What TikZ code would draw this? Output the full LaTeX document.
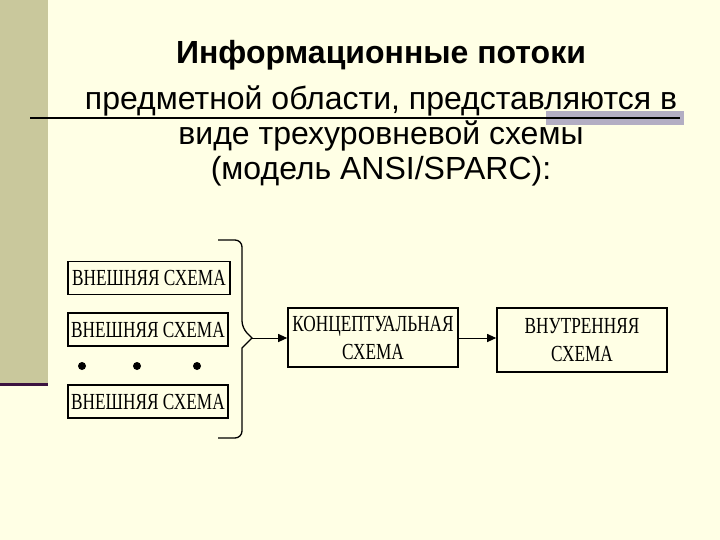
\documentclass[tikz,border=0pt]{standalone}
\usepackage{fontspec}
\setmainfont{Liberation Sans}
\newfontfamily\boxfont{Liberation Serif}
\usetikzlibrary{arrows.meta, positioning}
\definecolor{cream}{HTML}{FFFFE5}
\definecolor{khaki}{HTML}{C9C89C}
\definecolor{plum}{HTML}{3B1240}
\definecolor{greybar}{HTML}{B3AEC3}
\newcommand{\narrowtext}[1]{\scalebox{0.75}[1]{#1}}
\tikzset{
  schema/.style={rectangle, draw=black, line width=1.6pt, inner sep=0pt,
    minimum width=162pt, minimum height=33pt, align=center,
    font=\boxfont\fontsize{23}{28}\selectfont},
  schemathin/.style={schema, line width=1.1pt, minimum width=160pt},
  schemabig/.style={schema, minimum width=170pt, minimum height=59pt},
  flow/.style={-{Triangle[length=9pt, width=8pt]}, line width=1pt},
  dotmark/.style={circle, fill=black, inner sep=0pt, minimum size=8pt},
  title/.style={align=center, font=\fontsize{32}{35}\selectfont},
}
\begin{document}
\begin{tikzpicture}[x=1pt, y=-1pt]
\useasboundingbox (0,0) rectangle (720,540);
\fill[cream] (0,0) rectangle (720,540);
\fill[khaki] (0,0) rectangle (48,383);
\fill[plum] (0,383) rectangle (48,386);
\fill[greybar] (546,111) rectangle (684,125);
\draw[line width=1.5pt] (30,118) -- (680,118);

\node[title] (head) at (381,113)
  {\textbf{Информационные потоки}\\[11pt]
   предметной области, представляются в\\
   виде трехуровневой схемы\\
   (модель ANSI/SPARC):};

\node[schema] (ext1) at (149,278) {\narrowtext{ВНЕШНЯЯ СХЕМА}};
\node[schemathin] (ext2) at (148,329.5) {\narrowtext{ВНЕШНЯЯ СХЕМА}};
\node[schemathin] (ext3) at (148,401.5) {\narrowtext{ВНЕШНЯЯ СХЕМА}};
\foreach \i/\x in {1/82, 2/137, 3/197}
  \node[dotmark] (dot\i) at (\x,366) {};

\draw[line width=1.3pt, rounded corners=7pt] (218,240) -- (242,240) -- (242,328)
  [sharp corners] -- (252,338) -- (242,348) [rounded corners=7pt] -- (242,438) -- (218,438);
\coordinate (tip) at (252,338);

\node[schemabig] (concept) at (373,337.5)
  {\narrowtext{КОНЦЕПТУАЛЬНАЯ}\\\narrowtext{СХЕМА}};
\node[schemabig, minimum height=64pt] (internal) at (582,340)
  {\narrowtext{ВНУТРЕННЯЯ}\\\narrowtext{СХЕМА}};

\draw[flow] (tip) -- (concept.west |- tip);
\draw[flow] (concept.east |- tip) -- (internal.west |- tip);
\end{tikzpicture}
\end{document}
